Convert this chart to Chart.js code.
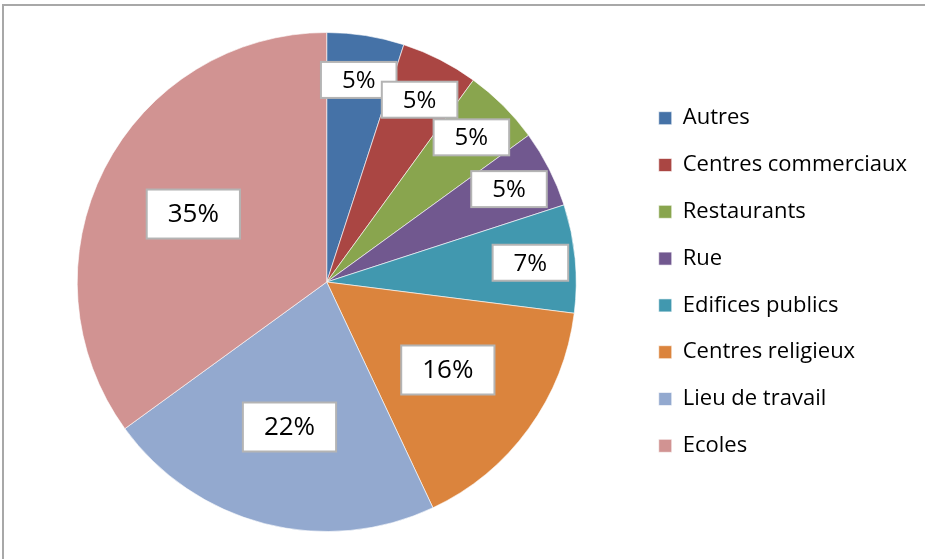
<!DOCTYPE html>
<html>
<head>
<meta charset="utf-8">
<script src="https://cdn.jsdelivr.net/npm/chart.js@4"></script>
<style>
  html, body { margin: 0; padding: 0; background: #fff; overflow: hidden; }
  #frame { position: absolute; left: 2px; top: 4px; width: 1100px; height: 1100px; border: 2px solid #a8a8a8; box-sizing: border-box; }
  #wrap { position: absolute; left: 0; top: 0; width: 925px; height: 559px; }
</style>
</head>
<body>
<div id="frame"></div>
<div id="wrap"><canvas id="pie"></canvas></div>
<script>
const categories = ['Autres', 'Centres commerciaux', 'Restaurants', 'Rue', 'Edifices publics', 'Centres religieux', 'Lieu de travail', 'Ecoles'];
const shares = [5, 5, 5, 5, 7, 16, 22, 35];
const sliceColors = ['#4572A7', '#AA4643', '#89A54E', '#71588F', '#4198AF', '#DB843D', '#93A9CF', '#D19392'];

// boxed percentage labels, like the Excel data labels
const boxLabels = {
    id: 'boxLabels',
    afterDatasetsDraw(chart) {
        const ctx = chart.ctx;
        const arcs = chart.getDatasetMeta(0).data;
        ctx.save();
        arcs.forEach((arc, i) => {
            const v = shares[i];
            const small = v < 10;
            const p = arc.getProps(['x', 'y', 'startAngle', 'endAngle', 'outerRadius'], true);
            const mid = (p.startAngle + p.endAngle) / 2;
            const r = p.outerRadius * (small ? 0.82 : 0.6);
            const cx = p.x + Math.cos(mid) * r;
            const cy = p.y + Math.sin(mid) * r;
            const size = small ? 24 : 26;
            ctx.font = size + 'px "Open Sans"';
            const text = v + '%';
            const w = ctx.measureText(text).width + 42;
            const h = small ? 36 : 49;
            ctx.fillStyle = '#fff';
            ctx.fillRect(cx - w / 2, cy - h / 2, w, h);
            ctx.strokeStyle = '#b4b4b4';
            ctx.lineWidth = 2;
            ctx.strokeRect(cx - w / 2, cy - h / 2, w, h);
            ctx.fillStyle = '#000';
            ctx.textAlign = 'center';
            ctx.textBaseline = 'middle';
            ctx.fillText(text, cx, cy + 1);
        });
        ctx.restore();
    }
};

new Chart(document.getElementById('pie'), {
    type: 'pie',
    data: {
        labels: categories,
        datasets: [{
            data: shares,
            backgroundColor: sliceColors,
            borderColor: 'rgba(255,255,255,0.6)',
            borderWidth: 1
        }]
    },
    options: {
        responsive: true,
        maintainAspectRatio: false,
        animation: false,
        layout: {
            padding: { left: 19.5, right: 8, top: 32, bottom: 27 }
        },
        plugins: {
            legend: {
                position: 'right',
                labels: {
                    boxWidth: 13,
                    boxHeight: 13,
                    padding: 24.8,
                    color: '#000',
                    font: { family: '"Open Sans"', size: 22 }
                }
            },
            tooltip: { enabled: false }
        }
    },
    plugins: [boxLabels]
});
</script>
</body>
</html>
